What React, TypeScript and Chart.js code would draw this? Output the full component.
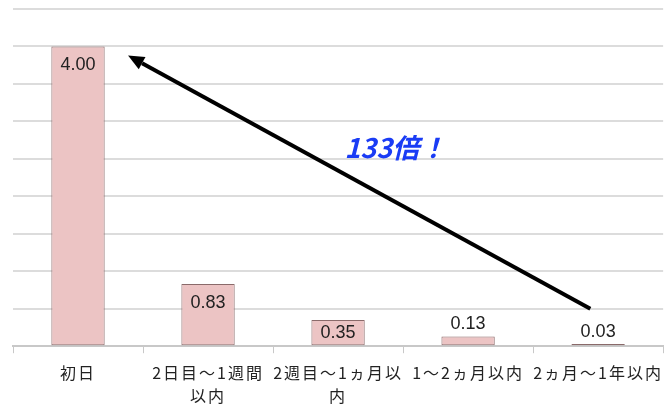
import React, { useEffect, useRef } from "react";
import { Chart, registerables } from "chart.js";

Chart.register(...registerables);

const categories: string[][] = [
  ["初日"],
  ["2日目～1週間", "以内"],
  ["2週目～1ヵ月以", "内"],
  ["1～2ヵ月以内"],
  ["2ヵ月～1年以内"],
];
const values: number[] = [4.0, 0.83, 0.35, 0.13, 0.03];
const valueLabels: string[] = ["4.00", "0.83", "0.35", "0.13", "0.03"];
const annotationText = "133倍！";
// arrow anchored in data space: [categoryIndex, value]
const arrowFrom: [number, number] = [3.94, 0.5];
const arrowTo: [number, number] = [0.385, 3.88];
const textAnchor: [number, number] = [2.44, 2.65];

const letterSpacingPlugin = {
  id: "spacing",
  beforeDraw(chart: any) {
    chart.ctx.letterSpacing = "2px";
  },
  beforeDatasetsDraw(chart: any) {
    chart.ctx.letterSpacing = "0px";
  },
};

const barLabelPlugin = {
  id: "barLabels",
  afterDatasetsDraw(chart: any) {
    const ctx = chart.ctx;
    const meta = chart.getDatasetMeta(0);
    ctx.save();
    ctx.letterSpacing = "0px";
    ctx.font = "18px 'Liberation Sans', Arial, sans-serif";
    ctx.fillStyle = "#222";
    ctx.textAlign = "center";
    ctx.textBaseline = "middle";
    meta.data.forEach((bar: any, i: number) => {
      const h = bar.base - bar.y;
      const y = h >= 20 ? bar.y + Math.min(19, h / 2) : bar.y - 12;
      ctx.fillText(valueLabels[i], bar.x, y);
    });
    ctx.restore();
  },
};

const arrowPlugin = {
  id: "arrowAnno",
  afterDraw(chart: any) {
    const ctx = chart.ctx;
    const xs = chart.scales.x;
    const ys = chart.scales.y;
    const x1 = xs.getPixelForValue(arrowFrom[0]);
    const y1 = ys.getPixelForValue(arrowFrom[1]);
    const x2 = xs.getPixelForValue(arrowTo[0]);
    const y2 = ys.getPixelForValue(arrowTo[1]);
    const ang = Math.atan2(y2 - y1, x2 - x1);
    const headLen = 16;
    const headW = 7;
    const bx = x2 - headLen * Math.cos(ang);
    const by = y2 - headLen * Math.sin(ang);
    ctx.save();
    ctx.letterSpacing = "0px";
    ctx.strokeStyle = "#000";
    ctx.lineWidth = 4;
    ctx.lineCap = "butt";
    ctx.beginPath();
    ctx.moveTo(x1, y1);
    ctx.lineTo(bx, by);
    ctx.stroke();
    ctx.fillStyle = "#000";
    ctx.beginPath();
    ctx.moveTo(x2, y2);
    ctx.lineTo(bx + headW * Math.sin(ang), by - headW * Math.cos(ang));
    ctx.lineTo(bx - headW * Math.sin(ang), by + headW * Math.cos(ang));
    ctx.closePath();
    ctx.fill();
    const tx = xs.getPixelForValue(textAnchor[0]);
    const ty = ys.getPixelForValue(textAnchor[1]);
    ctx.font = "italic bold 27px 'Noto Sans CJK JP', sans-serif";
    ctx.fillStyle = "#1a3cf5";
    ctx.textAlign = "center";
    ctx.textBaseline = "middle";
    ctx.fillText(annotationText, tx, ty);
    ctx.restore();
  },
};

export default function App() {
  const ref = useRef<HTMLCanvasElement | null>(null);
  useEffect(() => {
    if (!ref.current) return;
    const chart = new Chart(ref.current, {
      type: "bar",
      data: {
        labels: categories,
        datasets: [
          {
            data: values,
            backgroundColor: "#ecc4c4",
            borderColor: "#8a6a6a",
            borderWidth: 1,
            borderSkipped: false,
            barPercentage: 0.41,
            categoryPercentage: 1,
          },
        ],
      },
      options: {
        animation: false,
        responsive: false,
        maintainAspectRatio: false,
        layout: { padding: { left: 13, top: 9, right: -3, bottom: -7 } },
        plugins: { legend: { display: false }, tooltip: { enabled: false } },
        scales: {
          x: {
            offset: true,
            grid: {
              display: true,
              drawOnChartArea: false,
              drawTicks: true,
              tickLength: 7,
              color: "#c8c8c8",
              offset: true,
            },
            border: { display: true, color: "#c8c8c8", width: 2 },
            ticks: {
              color: "#222",
              font: { family: "'Noto Sans CJK JP', sans-serif", size: 16, lineHeight: 1.4 },
              padding: 9,
              maxRotation: 0,
              autoSkip: false,
            },
          },
          y: {
            min: 0,
            max: 4.5,
            display: true,
            ticks: { display: false, stepSize: 0.5 },
            grid: { color: "#dcdcdc", lineWidth: 2, drawTicks: false },
            border: { display: false },
          },
        },
      },
      plugins: [letterSpacingPlugin, barLabelPlugin, arrowPlugin],
    });
    return () => chart.destroy();
  }, []);
  return (
    <div style={{ position: "fixed", left: 0, top: 0, width: 664, height: 409, background: "#fff" }}>
      <canvas ref={ref} width={664} height={409} style={{ display: "block" }} />
    </div>
  );
}
